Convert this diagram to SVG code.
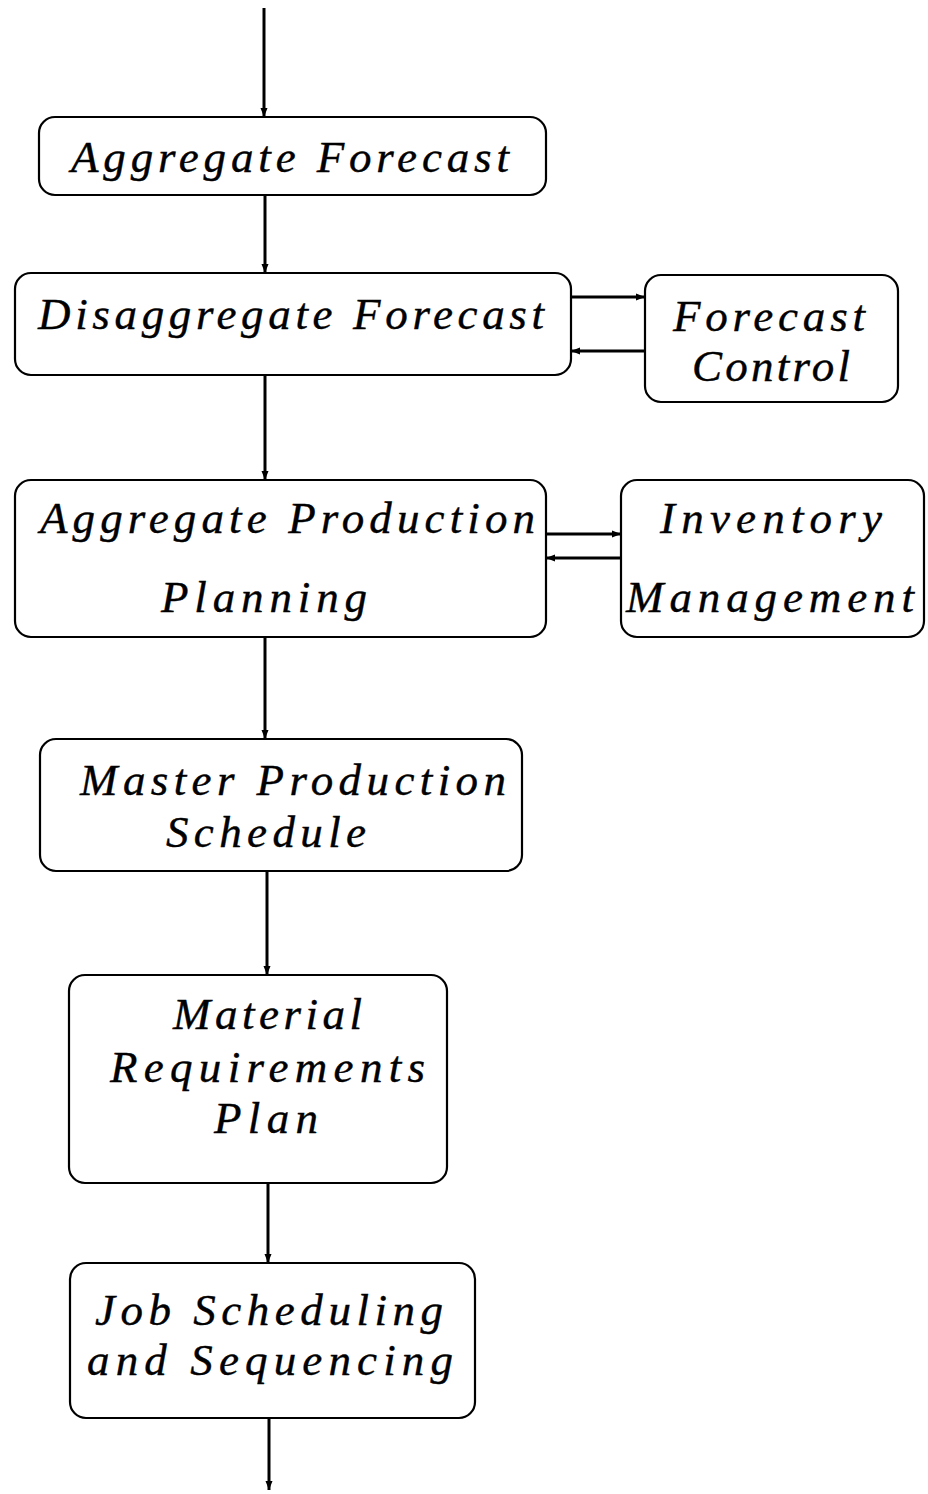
<svg xmlns="http://www.w3.org/2000/svg" width="928" height="1494" viewBox="0 0 928 1494">
  <style>
    .box { fill: #ffffff; stroke: #000000; stroke-width: 2.2; }
    .lbl { font-family: "Liberation Serif", "DejaVu Serif", serif; font-style: italic; font-size: 45px; fill: #000000; stroke: #000000; stroke-width: 0.4; }
    .wire { fill: none; stroke: #000000; stroke-width: 3; }
  </style>
  <defs>
    <marker id="head" markerUnits="userSpaceOnUse" markerWidth="10" markerHeight="8" refX="9" refY="4" orient="auto">
      <path d="M0,0.5 L9,4 L0,7.5 z" fill="#000000"/>
    </marker>
  </defs>

  <rect width="928" height="1494" fill="#ffffff"/>

  <!-- flow connectors -->
  <g id="connectors">
    <line class="wire" x1="264" y1="8" x2="264" y2="117" marker-end="url(#head)"/>
    <line class="wire" x1="265" y1="195" x2="265" y2="273" marker-end="url(#head)"/>
    <line class="wire" x1="571" y1="297" x2="645" y2="297" marker-end="url(#head)"/>
    <line class="wire" x1="645" y1="351" x2="571" y2="351" marker-end="url(#head)"/>
    <line class="wire" x1="265" y1="376" x2="265" y2="480" marker-end="url(#head)"/>
    <line class="wire" x1="546" y1="534" x2="621" y2="534" marker-end="url(#head)"/>
    <line class="wire" x1="621" y1="558" x2="546" y2="558" marker-end="url(#head)"/>
    <line class="wire" x1="265" y1="637" x2="265" y2="739" marker-end="url(#head)"/>
    <line class="wire" x1="267" y1="871" x2="267" y2="975" marker-end="url(#head)"/>
    <line class="wire" x1="268" y1="1183" x2="268" y2="1263" marker-end="url(#head)"/>
    <line class="wire" x1="269" y1="1418" x2="269" y2="1490" marker-end="url(#head)"/>
  </g>

  <g id="aggregate-forecast">
    <rect class="box" x="39" y="117" width="507" height="78" rx="16"/>
    <text class="lbl" x="71" y="172" textLength="438" lengthAdjust="spacing">Aggregate Forecast</text>
  </g>

  <g id="disaggregate-forecast">
    <rect class="box" x="15" y="273" width="556" height="102" rx="16"/>
    <text class="lbl" x="38" y="329" textLength="506" lengthAdjust="spacing">Disaggregate Forecast</text>
  </g>

  <g id="forecast-control">
    <rect class="box" x="645" y="275" width="253" height="127" rx="16"/>
    <text class="lbl" x="673" y="331" textLength="192" lengthAdjust="spacing">Forecast</text>
    <text class="lbl" x="692" y="381" textLength="158" lengthAdjust="spacing">Control</text>
  </g>

  <g id="aggregate-production-planning">
    <rect class="box" x="15" y="480" width="531" height="157" rx="16"/>
    <text class="lbl" x="40" y="533" textLength="495" lengthAdjust="spacing">Aggregate Production</text>
    <text class="lbl" x="161" y="612" textLength="206" lengthAdjust="spacing">Planning</text>
  </g>

  <g id="inventory-management">
    <rect class="box" x="621" y="480" width="303" height="157" rx="16"/>
    <text class="lbl" x="660" y="533" textLength="222" lengthAdjust="spacing">Inventory</text>
    <text class="lbl" x="626" y="612" textLength="288" lengthAdjust="spacing">Management</text>
  </g>

  <g id="master-production-schedule">
    <rect class="box" x="40" y="739" width="482" height="132" rx="16"/>
    <text class="lbl" x="80" y="795" textLength="426" lengthAdjust="spacing">Master Production</text>
    <text class="lbl" x="166" y="847" textLength="200" lengthAdjust="spacing">Schedule</text>
  </g>

  <g id="material-requirements-plan">
    <rect class="box" x="69" y="975" width="378" height="208" rx="16"/>
    <text class="lbl" x="173" y="1029" textLength="189" lengthAdjust="spacing">Material</text>
    <text class="lbl" x="110" y="1082" textLength="315" lengthAdjust="spacing">Requirements</text>
    <text class="lbl" x="214" y="1133" textLength="104" lengthAdjust="spacing">Plan</text>
  </g>

  <g id="job-scheduling-sequencing">
    <rect class="box" x="70" y="1263" width="405" height="155" rx="16"/>
    <text class="lbl" x="95" y="1325" textLength="348" lengthAdjust="spacing">Job Scheduling</text>
    <text class="lbl" x="87" y="1375" textLength="366" lengthAdjust="spacing">and Sequencing</text>
  </g>
</svg>
